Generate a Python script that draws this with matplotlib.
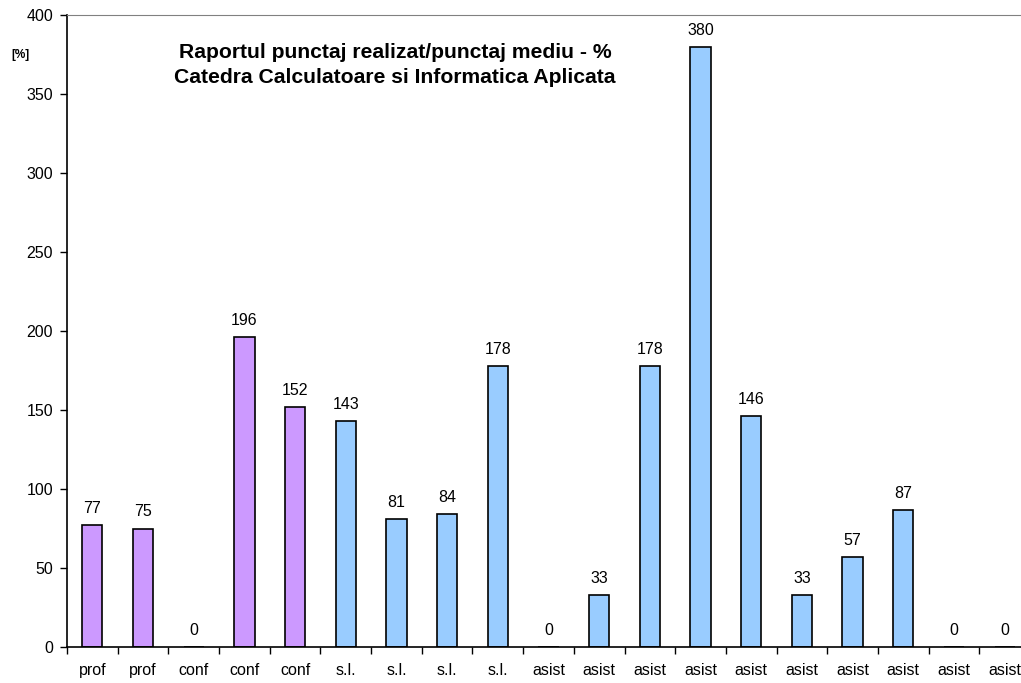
import matplotlib.pyplot as plt
import numpy as np

plt.rcParams['font.family'] = ['Liberation Sans', 'DejaVu Sans']

# Category labels and score ratios per staff member
categories = ['prof', 'prof', 'conf', 'conf', 'conf', 's.l.', 's.l.', 's.l.', 's.l.',
              'asist', 'asist', 'asist', 'asist', 'asist', 'asist', 'asist', 'asist',
              'asist', 'asist']
values = [77, 75, 0, 196, 152, 143, 81, 84, 178, 0, 33, 178, 380, 146, 33, 57, 87, 0, 0]
n_purple = 5

purple = '#CC99FF'
blue = '#99CCFF'

fig = plt.figure(figsize=(10.21, 6.83), dpi=100)
ax = fig.add_axes([67 / 1021, 36 / 683, 963 / 1021, 632 / 683])

x = np.arange(len(values))
colors = [purple if i < n_purple else blue for i in range(len(values))]
ax.bar(x, values, width=0.4, color=colors, edgecolor='black', linewidth=1.2, zorder=2)

for xi, v in zip(x, values):
    ax.annotate(str(v), (xi, v), xytext=(0, 6.5), textcoords='offset points',
                ha='center', va='bottom', fontsize=11.5)

ax.set_xlim(-0.5, len(values) - 0.5)
ax.set_ylim(0, 400)
ax.set_yticks(np.arange(0, 401, 50))
ax.set_xticks(x)
ax.set_xticklabels(categories, fontsize=11.5)
ax.set_xticks(np.arange(-0.5, len(values)), minor=True)
ax.tick_params(axis='x', which='major', length=0, pad=11.5)
ax.tick_params(axis='x', which='minor', length=5, width=1, direction='out')
ax.tick_params(axis='y', length=5, width=1, direction='out', labelsize=11.5, pad=5)

ax.spines['right'].set_visible(False)
ax.spines['top'].set_color('#808080')
ax.spines['left'].set_linewidth(1.2)
ax.spines['bottom'].set_linewidth(1.2)

ax.text((395 - 67) / 963, (647 - 65) / 632,
        'Raportul punctaj realizat/punctaj mediu - %\nCatedra Calculatoare si Informatica Aplicata',
        transform=ax.transAxes, ha='center', va='center', fontsize=15.2,
        fontweight='bold', linespacing=1.45)

fig.text(20 / 1021, 1 - 55 / 683, '[%]', fontsize=8.5, fontweight='bold',
         ha='center', va='center')

fig.savefig('out.png', dpi=100)
